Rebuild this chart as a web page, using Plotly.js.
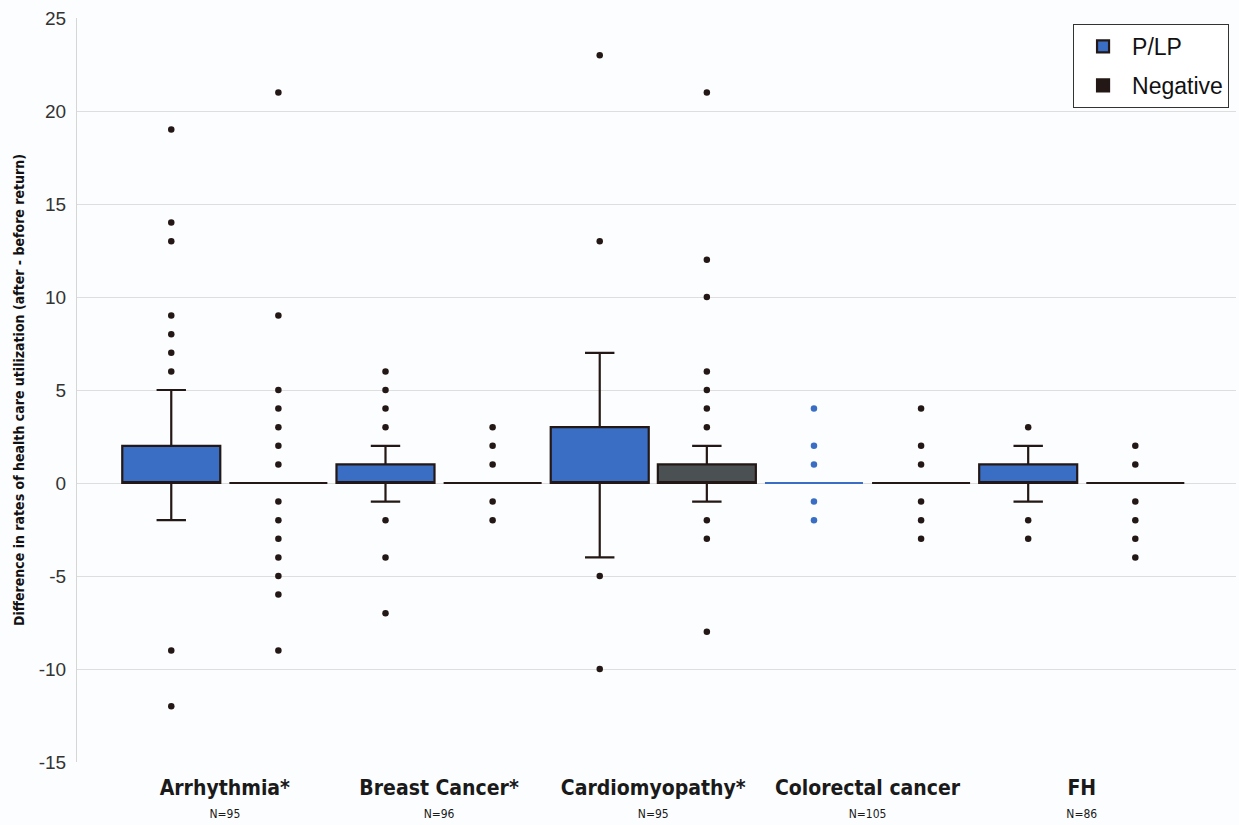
<!DOCTYPE html>
<html>
<head>
<meta charset="utf-8">
<script src="https://cdn.plot.ly/plotly-3.0.1.min.js"></script>
<style>html,body{margin:0;padding:0;background:#fcfdff;}#chart{width:1239px;height:825px;}</style>
</head>
<body>
<div id="chart"></div>
<script>
// ---- data ----
const categories = ["Arrhythmia*", "Breast Cancer*", "Cardiomyopathy*", "Colorectal cancer", "FH"];
const nLabels = ["N=95", "N=96", "N=95", "N=105", "N=86"];
const yTicks = [-15, -10, -5, 0, 5, 10, 15, 20, 25];

// P/LP box statistics (per category)
const plpQ1 = [0, 0, 0, 0, 0];
const plpMedian = [0, 0, 0, 0, 0];
const plpQ3 = [2, 1, 3, 0, 1];
const plpLower = [-2, -1, -4, 0, -1];
const plpUpper = [5, 2, 7, 0, 2];

// Negative box statistics (per category)
const negQ1 = [0, 0, 0, 0, 0];
const negMedian = [0, 0, 0, 0, 0];
const negQ3 = [0, 0, 1, 0, 0];
const negLower = [0, 0, -1, 0, 0];
const negUpper = [0, 0, 2, 0, 0];

// outliers (per category)
const plpOutliers = [
  [19, 14, 13, 9, 8, 7, 6, -9, -12],
  [6, 5, 4, 3, -2, -4, -7],
  [23, 13, -5, -10],
  [4, 2, 1, -1, -2],
  [3, -2, -3]
];
const negOutliers = [
  [21, 9, 5, 4, 3, 2, 1, -1, -2, -3, -4, -5, -6, -9],
  [3, 2, 1, -1, -2],
  [21, 12, 10, 6, 5, 4, 3, -2, -3, -8],
  [4, 2, 1, -1, -2, -3],
  [2, 1, -1, -2, -3, -4]
];

// ---- styling ----
const BLUE = '#3a6ec4';
const DARK = '#231815';
const GRAY = '#4b5052';

function pick(arr, idx) { return idx.map(i => arr[i]); }
function statBox(name, idx, q1, med, q3, lo, up, fill, line, group, showlegend, lgroup) {
  return {
    type: 'box', name: name, legendgroup: lgroup, showlegend: showlegend,
    x: pick(categories, idx),
    q1: pick(q1, idx), median: pick(med, idx), q3: pick(q3, idx),
    lowerfence: pick(lo, idx), upperfence: pick(up, idx),
    fillcolor: fill, line: {color: line, width: 2.2},
    whiskerwidth: 0.3, boxpoints: false,
    offsetgroup: group, hoverinfo: 'skip'
  };
}
function pointBox(idx, outl, color, group) {
  const xs = [], ys = [];
  idx.forEach(i => outl[i].forEach(v => { xs.push(categories[i]); ys.push(v); }));
  return {
    type: 'box', showlegend: false, x: xs, y: ys,
    boxpoints: 'all', jitter: 0, pointpos: 0,
    fillcolor: 'rgba(0,0,0,0)', line: {color: 'rgba(0,0,0,0)', width: 0},
    marker: {color: color, size: 6.5},
    offsetgroup: group, hoverinfo: 'skip'
  };
}

const traces = [
  statBox('P/LP', [0,1,2,4], plpQ1, plpMedian, plpQ3, plpLower, plpUpper, BLUE, DARK, 'plp', true, 'p'),
  statBox('P/LP', [3], plpQ1, plpMedian, plpQ3, plpLower, plpUpper, BLUE, BLUE, 'plp', false, 'p'),
  statBox('Negative', [0,1,3,4], negQ1, negMedian, negQ3, negLower, negUpper, DARK, DARK, 'neg', true, 'n'),
  statBox('Negative', [2], negQ1, negMedian, negQ3, negLower, negUpper, GRAY, DARK, 'neg', false, 'n'),
  pointBox([0,1,2,4], plpOutliers, DARK, 'plp'),
  pointBox([3], plpOutliers, BLUE, 'plp'),
  pointBox([0,1,2,3,4], negOutliers, DARK, 'neg')
];

const tickText = categories.map((c, i) =>
  '<span style="font-size:21px"><b>' + c + '</b></span><br><span style="font-size:12px">' + nLabels[i] + '</span>');

const layout = {
  width: 1239, height: 825,
  paper_bgcolor: '#fcfdff', plot_bgcolor: '#fcfdff',
  margin: {l: 77, r: 3, t: 18, b: 63},
  boxmode: 'group', boxgap: 0, boxgroupgap: 0.085,
  showlegend: true,
  legend: {
    x: 0.994, xanchor: 'right', y: 0.992, yanchor: 'top',
    bgcolor: '#ffffff', bordercolor: '#333333', borderwidth: 1,
    font: {family: 'Liberation Sans, Arial, sans-serif', size: 23, color: '#111'},
    traceorder: 'grouped', tracegroupgap: 6, itemwidth: 48
  },
  xaxis: {
    type: 'category', range: [-0.69, 4.72],
    categoryorder: 'array', categoryarray: categories,
    tickmode: 'array', tickvals: categories, ticktext: tickText,
    tickfont: {family: 'Liberation Sans Narrow, DejaVu Sans Condensed, sans-serif', size: 18, color: '#1a1a1a'},
    showgrid: false, zeroline: false, showline: false, ticks: '', automargin: false,
    ticklabelstandoff: 14
  },
  yaxis: {
    range: [-15, 25],
    tickmode: 'array', tickvals: yTicks, ticktext: yTicks.map(v => String(v)),
    showgrid: true, gridcolor: '#dedede', gridwidth: 1,
    zeroline: true, zerolinecolor: '#dedede', zerolinewidth: 1,
    showline: true, linecolor: '#d6d6d6', linewidth: 1,
    ticks: '', ticklabelstandoff: 6,
    tickfont: {family: 'Liberation Sans, Arial, sans-serif', size: 19, color: '#333'},
    automargin: false,
    title: {
      text: '<b>Difference in rates of health care utilization (after - before return)</b>',
      font: {family: 'Liberation Sans Narrow, DejaVu Sans Condensed, sans-serif', size: 14, color: '#111'},
      standoff: 10
    }
  }
};

Plotly.newPlot('chart', traces, layout, {displayModeBar: false, staticPlot: true});
</script>
</body>
</html>
